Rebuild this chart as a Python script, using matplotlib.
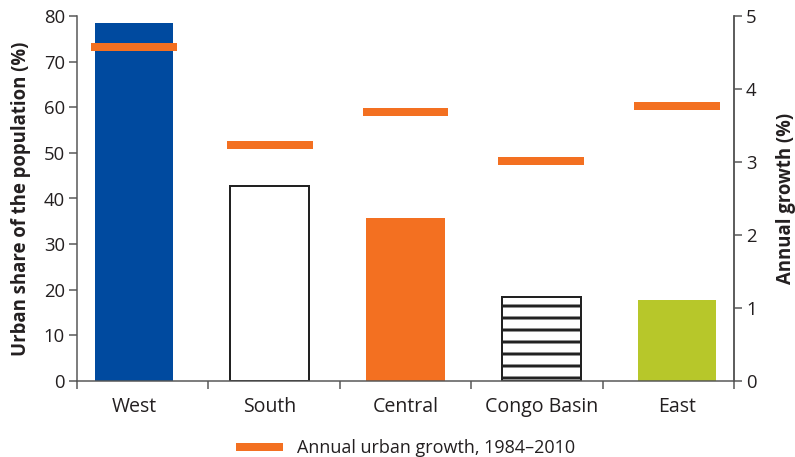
import matplotlib.pyplot as plt
import numpy as np

plt.rcParams['font.family'] = ['Open Sans', 'DejaVu Sans']
plt.rcParams['hatch.linewidth'] = 3
plt.rcParams['hatch.color'] = '#1a1a1a'

regions = ['West', 'South', 'Central', 'Congo Basin', 'East']
urban_share = [78.4, 42.8, 35.8, 18.4, 17.7]
urban_growth = [4.57, 3.23, 3.68, 3.02, 3.77]

bar_colors = ['#004a9f', 'white', '#f37021', 'white', '#b7c72a']
bar_edges = ['#004a9f', '#222222', '#f37021', '#222222', '#b7c72a']
bar_hatch = [None, None, None, '-', None]

text_col = '#231f20'
axis_col = '#555555'
orange = '#f37021'

fig = plt.figure(figsize=(795 / 72, 457 / 72), dpi=72)
ax = fig.add_axes([77 / 795, 76 / 457, 657 / 795, 365 / 457])
ax2 = ax.twinx()

x = np.arange(len(regions))
for i in range(len(regions)):
    ax.bar(x[i], urban_share[i], width=0.58, color=bar_colors[i],
           edgecolor=bar_edges[i], linewidth=2 if bar_edges[i] == '#222222' else 0,
           hatch=bar_hatch[i], zorder=2)

ax2.hlines(urban_growth, x - 0.315, x + 0.315, color=orange, linewidth=8,
           capstyle='butt', zorder=3, label='Annual urban growth, 1984\u20132010')

xmin, xmax = -0.42, 4.42
ax.set_xlim(xmin, xmax)
ax.set_ylim(0, 80)
ax2.set_ylim(0, 5)
ax.set_yticks(range(0, 81, 10))
ax2.set_yticks(range(0, 6))

# category labels centred, tick marks splitting the axis into equal parts
ax.set_xticks(x)
ax.set_xticklabels(regions)
ax.set_xticks(np.linspace(xmin, xmax, 6), minor=True)
ax.tick_params(axis='x', which='major', length=0, pad=16, labelsize=19.5, labelcolor=text_col)
ax.tick_params(axis='x', which='minor', length=8, width=1.5, color=axis_col, direction='out')
ax.tick_params(axis='y', length=8, width=1.5, color=axis_col, labelsize=18.5, labelcolor=text_col, pad=4)
ax2.tick_params(axis='y', length=8, width=1.5, color=axis_col, labelsize=18.5, labelcolor=text_col, pad=4)

for a in (ax, ax2):
    a.spines['top'].set_visible(False)
    for s in ('left', 'right', 'bottom'):
        a.spines[s].set_color(axis_col)
        a.spines[s].set_linewidth(1.5)
ax2.spines['left'].set_visible(False)
ax2.spines['bottom'].set_visible(False)

ax.set_ylabel('Urban share of the population (%)', fontsize=18.5, fontweight='bold',
              color=text_col, labelpad=13)
ax2.set_ylabel('Annual growth (%)', fontsize=18.5, fontweight='bold', color=text_col,
               labelpad=19)

ax2.legend(loc='upper center', bbox_to_anchor=(0.5, -0.115), frameon=False,
           fontsize=18, handlelength=2.6, labelcolor=text_col)

fig.savefig('out.png', dpi=72)
